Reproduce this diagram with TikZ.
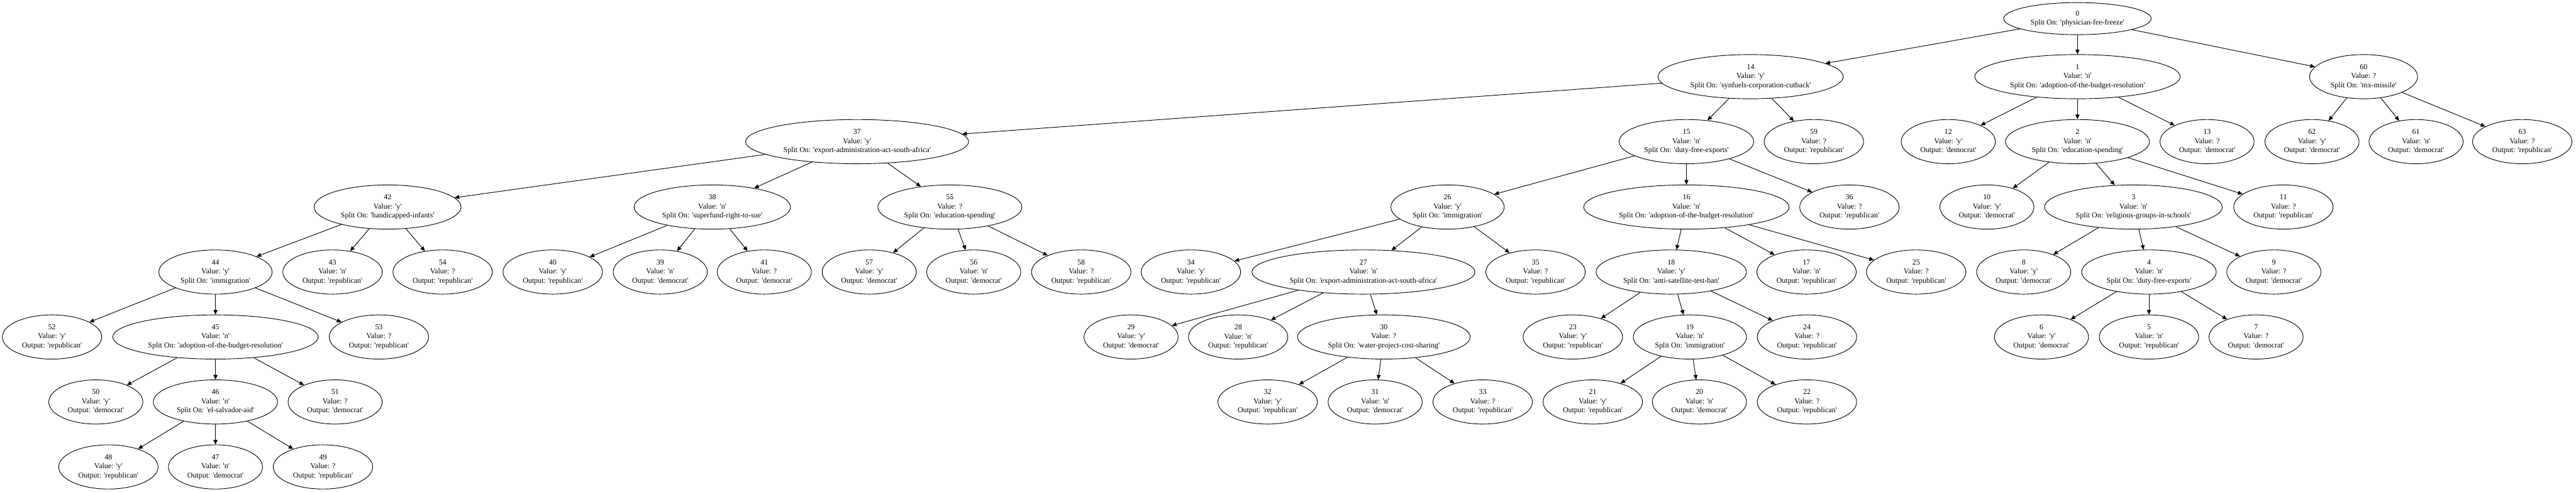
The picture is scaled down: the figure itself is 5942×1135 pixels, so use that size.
\documentclass[tikz,border=0pt]{standalone}
\usepackage{fontspec}
\setmainfont{Liberation Serif}[Ligatures=TeXOff]
\usepackage{tikz}
\usetikzlibrary{arrows.meta, shapes.geometric}

\begin{document}
\begin{tikzpicture}[
                x=0.75pt, y=-0.75pt,
                dtnode/.style={ellipse, draw, line width=1pt, align=center, inner xsep=9pt, inner ysep=3pt, minimum height=76.5pt, font=\fontsize{13}{15.75}\selectfont},
                rootnode/.style={dtnode, minimum height=55.5pt},
                arrow/.style={line width=1pt, -{Triangle[length=8pt, width=7pt]}}
            ]
                \useasboundingbox (0,0) rectangle (5942,1135);

                % Level 0
                \node[rootnode] (n0) at (4792,43) {0\\Split On: 'physician-fee-freeze'};

                % Level 1
                \node[dtnode] (n14) at (4038,177) {14\\Value: 'y'\\Split On: 'synfuels-corporation-cutback'};
                \node[dtnode] (n1) at (4792,177) {1\\Value: 'n'\\Split On: 'adoption-of-the-budget-resolution'};
                \node[dtnode] (n60) at (5452,177) {60\\Value: ?\\Split On: 'mx-missile'};

                % Level 2
                \node[dtnode] (n37) at (1977,327) {37\\Value: 'y'\\Split On: 'export-administration-act-south-africa'};
                \node[dtnode] (n15) at (3890,327) {15\\Value: 'n'\\Split On: 'duty-free-exports'};
                \node[dtnode] (n59) at (4184,327) {59\\Value: ?\\Output: 'republican'};
                \node[dtnode] (n12) at (4494,327) {12\\Value: 'y'\\Output: 'democrat'};
                \node[dtnode] (n2) at (4792,327) {2\\Value: 'n'\\Split On: 'education-spending'};
                \node[dtnode] (n13) at (5091,327) {13\\Value: ?\\Output: 'democrat'};
                \node[dtnode] (n62) at (5333,327) {62\\Value: 'y'\\Output: 'democrat'};
                \node[dtnode] (n61) at (5573,327) {61\\Value: 'n'\\Output: 'democrat'};
                \node[dtnode] (n63) at (5818,327) {63\\Value: ?\\Output: 'republican'};

                % Level 3
                \node[dtnode] (n42) at (894,478) {42\\Value: 'y'\\Split On: 'handicapped-infants'};
                \node[dtnode] (n38) at (1643,478) {38\\Value: 'n'\\Split On: 'superfund-right-to-sue'};
                \node[dtnode] (n55) at (2191,478) {55\\Value: ?\\Split On: 'education-spending'};
                \node[dtnode] (n26) at (3339,478) {26\\Value: 'y'\\Split On: 'immigration'};
                \node[dtnode] (n16) at (3890,478) {16\\Value: 'n'\\Split On: 'adoption-of-the-budget-resolution'};
                \node[dtnode] (n36) at (4266,478) {36\\Value: ?\\Output: 'republican'};
                \node[dtnode] (n10) at (4583,478) {10\\Value: 'y'\\Output: 'democrat'};
                \node[dtnode] (n3) at (4921,478) {3\\Value: 'n'\\Split On: 'religious-groups-in-schools'};
                \node[dtnode] (n11) at (5267,478) {11\\Value: ?\\Output: 'republican'};

                % Level 4
                \node[dtnode] (n44) at (497,628) {44\\Value: 'y'\\Split On: 'immigration'};
                \node[dtnode] (n43) at (767,628) {43\\Value: 'n'\\Output: 'republican'};
                \node[dtnode] (n54) at (1021,628) {54\\Value: ?\\Output: 'republican'};
                \node[dtnode] (n40) at (1275,628) {40\\Value: 'y'\\Output: 'republican'};
                \node[dtnode] (n39) at (1523,628) {39\\Value: 'n'\\Output: 'democrat'};
                \node[dtnode] (n41) at (1763,628) {41\\Value: ?\\Output: 'democrat'};
                \node[dtnode] (n57) at (2005,628) {57\\Value: 'y'\\Output: 'democrat'};
                \node[dtnode] (n56) at (2246,628) {56\\Value: 'n'\\Output: 'democrat'};
                \node[dtnode] (n58) at (2494,628) {58\\Value: ?\\Output: 'republican'};
                \node[dtnode] (n34) at (2747,628) {34\\Value: 'y'\\Output: 'republican'};
                \node[dtnode] (n27) at (3145,628) {27\\Value: 'n'\\Split On: 'export-administration-act-south-africa'};
                \node[dtnode] (n35) at (3542,628) {35\\Value: ?\\Output: 'republican'};
                \node[dtnode] (n18) at (3855,628) {18\\Value: 'y'\\Split On: 'anti-satellite-test-ban'};
                \node[dtnode] (n17) at (4167,628) {17\\Value: 'n'\\Output: 'republican'};
                \node[dtnode] (n25) at (4420,628) {25\\Value: ?\\Output: 'republican'};
                \node[dtnode] (n8) at (4668,628) {8\\Value: 'y'\\Output: 'democrat'};
                \node[dtnode] (n4) at (4957,628) {4\\Value: 'n'\\Split On: 'duty-free-exports'};
                \node[dtnode] (n9) at (5245,628) {9\\Value: ?\\Output: 'democrat'};

                % Level 5
                \node[dtnode] (n52) at (120,778) {52\\Value: 'y'\\Output: 'republican'};
                \node[dtnode] (n45) at (497,778) {45\\Value: 'n'\\Split On: 'adoption-of-the-budget-resolution'};
                \node[dtnode] (n53) at (874,778) {53\\Value: ?\\Output: 'republican'};
                \node[dtnode] (n29) at (2609,778) {29\\Value: 'y'\\Output: 'democrat'};
                \node[dtnode] (n28) at (2856,778) {28\\Value: 'n'\\Output: 'republican'};
                \node[dtnode] (n30) at (3192,778) {30\\Value: ?\\Split On: 'water-project-cost-sharing'};
                \node[dtnode] (n23) at (3628,778) {23\\Value: 'y'\\Output: 'republican'};
                \node[dtnode] (n19) at (3898,778) {19\\Value: 'n'\\Split On: 'immigration'};
                \node[dtnode] (n24) at (4168,778) {24\\Value: ?\\Output: 'republican'};
                \node[dtnode] (n6) at (4709,778) {6\\Value: 'y'\\Output: 'democrat'};
                \node[dtnode] (n5) at (4957,778) {5\\Value: 'n'\\Output: 'republican'};
                \node[dtnode] (n7) at (5204,778) {7\\Value: ?\\Output: 'democrat'};

                % Level 6
                \node[dtnode] (n50) at (221,928) {50\\Value: 'y'\\Output: 'democrat'};
                \node[dtnode] (n46) at (497,928) {46\\Value: 'n'\\Split On: 'el-salvador-aid'};
                \node[dtnode] (n51) at (773,928) {51\\Value: ?\\Output: 'democrat'};
                \node[dtnode] (n32) at (2924,928) {32\\Value: 'y'\\Output: 'republican'};
                \node[dtnode] (n31) at (3172,928) {31\\Value: 'n'\\Output: 'democrat'};
                \node[dtnode] (n33) at (3420,928) {33\\Value: ?\\Output: 'republican'};
                \node[dtnode] (n21) at (3674,928) {21\\Value: 'y'\\Output: 'republican'};
                \node[dtnode] (n20) at (3920,928) {20\\Value: 'n'\\Output: 'democrat'};
                \node[dtnode] (n22) at (4168,928) {22\\Value: ?\\Output: 'republican'};

                % Level 7
                \node[dtnode] (n48) at (250,1078) {48\\Value: 'y'\\Output: 'republican'};
                \node[dtnode] (n47) at (497,1078) {47\\Value: 'n'\\Output: 'democrat'};
                \node[dtnode] (n49) at (745,1078) {49\\Value: ?\\Output: 'republican'};

                % Edges
                \path[arrow]
                    (n0) edge (n14)  (n0) edge (n1)  (n0) edge (n60)
                    (n14) edge (n37)  (n14) edge (n15)  (n14) edge (n59)
                    (n1) edge (n12)  (n1) edge (n2)  (n1) edge (n13)
                    (n60) edge (n62)  (n60) edge (n61)  (n60) edge (n63)
                    (n37) edge (n42)  (n37) edge (n38)  (n37) edge (n55)
                    (n15) edge (n26)  (n15) edge (n16)  (n15) edge (n36)
                    (n2) edge (n10)  (n2) edge (n3)  (n2) edge (n11)
                    (n42) edge (n44)  (n42) edge (n43)  (n42) edge (n54)
                    (n38) edge (n40)  (n38) edge (n39)  (n38) edge (n41)
                    (n55) edge (n57)  (n55) edge (n56)  (n55) edge (n58)
                    (n26) edge (n34)  (n26) edge (n27)  (n26) edge (n35)
                    (n16) edge (n18)  (n16) edge (n17)  (n16) edge (n25)
                    (n3) edge (n8)  (n3) edge (n4)  (n3) edge (n9)
                    (n44) edge (n52)  (n44) edge (n45)  (n44) edge (n53)
                    (n27) edge (n29)  (n27) edge (n28)  (n27) edge (n30)
                    (n18) edge (n23)  (n18) edge (n19)  (n18) edge (n24)
                    (n4) edge (n6)  (n4) edge (n5)  (n4) edge (n7)
                    (n45) edge (n50)  (n45) edge (n46)  (n45) edge (n51)
                    (n30) edge (n32)  (n30) edge (n31)  (n30) edge (n33)
                    (n19) edge (n21)  (n19) edge (n20)  (n19) edge (n22)
                    (n46) edge (n48)  (n46) edge (n47)  (n46) edge (n49);
            \end{tikzpicture}
\end{document}
